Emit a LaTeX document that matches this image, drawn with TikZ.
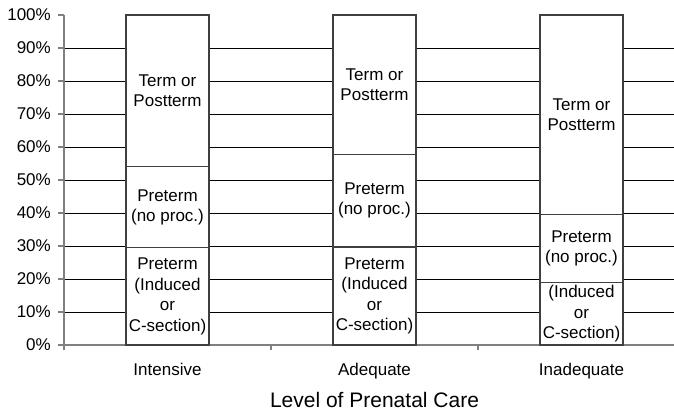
\documentclass[tikz,border=0pt]{standalone}
\usepackage{fontspec}
\setmainfont{Liberation Sans}
\usepackage{xcolor}
\usepackage{tikz}
\usetikzlibrary{positioning}

\tikzset{
	lbl/.style={align=center, font=\fontsize{17}{20.5}\selectfont, inner sep=0pt},
	seg/.style={draw=black!75, fill=white, line width=1.1pt},
	axisline/.style={draw=gray, line width=1.3pt}
}

\begin{document}
\begin{tikzpicture}[x=1pt, y=3.3pt]
	\useasboundingbox (-64,-19.697) rectangle (610,104.545);

	% gridlines and y axis
	\foreach \v in {10,20,...,90}{
		\draw[black, line width=0.9pt] (0,\v) -- (610,\v);
	};
	\foreach \v in {0,10,...,100}{
		\draw[axisline] (-6,\v) -- (0,\v);
		\node[lbl, anchor=east] (y\v) at (-13,\v) {\v\%};
	};
	\draw[axisline] (0,0) -- (0,100);
	\draw[axisline] (0,0) -- (610,0);
	\foreach \t in {0,207,414}{
		\draw[axisline] (\t,0) -- (\t,-1.5);
	};

	% the three stacked bars
	\foreach \bx/\lo/\hi/\nm/\cat in {103.5/29.5/54.0/int/Intensive, 310.5/29.7/57.8/adq/Adequate, 517.5/18.9/39.6/inq/Inadequate}{
		\draw[seg] (\bx-41.5,0) rectangle (\bx+41.5,\lo);
		\draw[seg] (\bx-41.5,\lo) rectangle (\bx+41.5,\hi);
		\draw[seg] (\bx-41.5,\hi) rectangle (\bx+41.5,100);
		\node[lbl] (\nm-mid) at (\bx,{(\lo+\hi)/2}) {Preterm\\(no proc.)};
		\node[lbl] (\nm-top) at (\bx,{(\hi+100)/2}) {Term or\\Postterm};
		\node[lbl, anchor=base] (\nm-cat) at (\bx,-9.09) {\cat};
	};
	\node[lbl] (int-low) at (103.5,14.75) {Preterm\\(Induced\\or\\C-section)};
	\node[lbl] (adq-low) at (310.5,14.85) {Preterm\\(Induced\\or\\C-section)};
	\node[lbl] (inq-low) at (517.5,9.45) {(Induced\\or\\C-section)};

	\node[anchor=base, inner sep=0pt, font=\fontsize{21}{25}\selectfont] (xtitle) at (310.5,-18.94) {Level of Prenatal Care};

\end{tikzpicture}
\end{document}
